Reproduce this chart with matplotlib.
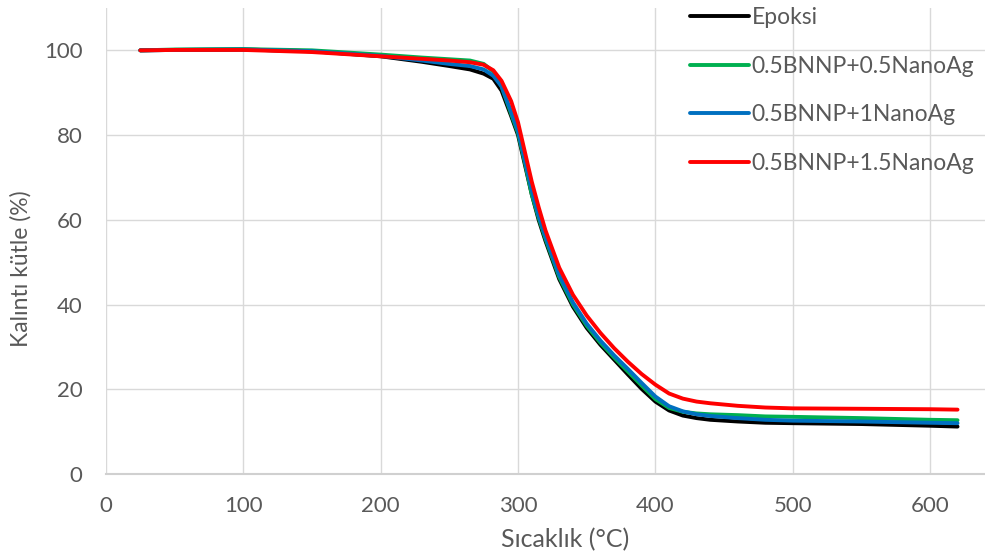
import matplotlib.pyplot as plt

plt.rcParams['font.family'] = ['Lato', 'DejaVu Sans']

# ========== 数据：TGA 曲线 ==========
temp = [25, 50, 100, 150, 200, 230, 250, 265, 275, 282, 288, 295, 300, 305, 310,
        315, 320, 330, 340, 350, 360, 370, 380, 390, 400, 410, 420, 430, 440,
        460, 480, 500, 550, 600, 620]

epoksi = [100, 100.1, 100.2, 99.8, 98.6, 97.3, 96.3, 95.5, 94.5, 93.3, 90.5, 84.5,
          80, 73, 66, 60, 55, 46, 39.5, 34.5, 30.5, 27, 23.5, 20.1, 17.1, 15.0,
          13.8, 13.2, 12.8, 12.4, 12.1, 12.0, 11.8, 11.4, 11.2]

ag05 = [100, 100.2, 100.3, 100.0, 99.0, 98.3, 97.9, 97.6, 96.8, 95.0, 91.5, 85,
        80.5, 73.5, 66, 60.5, 55.5, 46.5, 40, 35, 31, 27.5, 24.2, 20.9, 17.7, 15.6,
        14.7, 14.3, 14.1, 13.9, 13.6, 13.5, 13.2, 12.8, 12.7]

ag1 = [100, 100.1, 100.2, 99.8, 98.7, 97.6, 96.8, 96.3, 95.5, 94.0, 91.5, 85.5,
       81, 74, 67, 61, 56, 47, 40.5, 35.5, 31.5, 28, 24.8, 21.5, 18.3, 16.0,
       14.8, 14.1, 13.7, 13.2, 12.8, 12.6, 12.4, 12.1, 12.0]

ag15 = [100, 100.1, 100.1, 99.6, 98.6, 98.0, 97.6, 97.2, 96.6, 95.3, 92.8, 88,
        83, 76, 69, 63, 57.5, 48.7, 42.3, 37.4, 33.3, 29.7, 26.5, 23.6, 21.1, 19.0,
        17.8, 17.1, 16.7, 16.1, 15.7, 15.5, 15.4, 15.3, 15.2]

labels = ['Epoksi', '0.5BNNP+0.5NanoAg', '0.5BNNP+1NanoAg', '0.5BNNP+1.5NanoAg']
colors = ['#000000', '#00B050', '#0070C0', '#FF0000']
series = [epoksi, ag05, ag1, ag15]

xticks = [0, 100, 200, 300, 400, 500, 600]
yticks = [0, 20, 40, 60, 80, 100]

# ========== 图表 ==========
fig = plt.figure(figsize=(9.85, 5.59), dpi=100)
ax = fig.add_axes([0.1076, 0.152, 0.8924, 0.8337])

for vals, lab, col in zip(series, labels, colors):
    ax.plot(temp, vals, color=col, linewidth=2.8, label=lab,
            solid_capstyle='round', solid_joinstyle='round')

ax.set_xlim(0, 640)
ax.set_ylim(0, 110)
ax.set_xticks(xticks)
ax.set_yticks(yticks)
ax.grid(True, color='#D9D9D9', linewidth=1.0)
ax.set_axisbelow(True)
for s in ['top', 'right', 'left']:
    ax.spines[s].set_visible(False)
ax.spines['bottom'].set_color('#D0D0D0')
ax.spines['bottom'].set_linewidth(1.5)
ax.tick_params(length=0, labelsize=16, labelcolor='#595959')
ax.tick_params(axis='y', pad=17)
ax.tick_params(axis='x', pad=16)

fig.text(0.574, 0.034, 'Sıcaklık (°C)', ha='center', va='center',
         fontsize=18, color='#595959')
fig.text(0.021, 0.519, 'Kalıntı kütle (%)', ha='center', va='center',
         rotation=90, fontsize=16.5, color='#595959')

ax.legend(loc='upper left', bbox_to_anchor=(0.696, 0.995), bbox_transform=fig.transFigure,
          frameon=False, fontsize=16.5, handlelength=2.58, handletextpad=0.1,
          labelspacing=1.2, labelcolor='#595959', borderaxespad=0, borderpad=0.2)

plt.savefig('out.png', dpi=100)
plt.close()
